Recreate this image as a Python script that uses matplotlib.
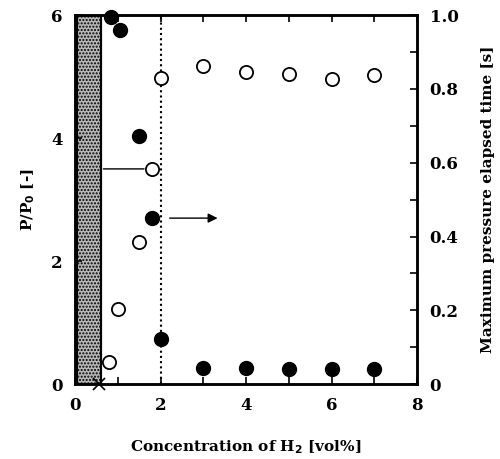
import matplotlib.pyplot as plt
import numpy as np
from matplotlib.ticker import MultipleLocator

# -----------------------
# DATA
# -----------------------
conc_open = [0.8, 1.0, 1.5, 1.8, 2.0, 3.0, 4.0, 5.0, 6.0, 7.0]
pp0 = [0.36, 1.22, 2.31, 3.50, 4.98, 5.17, 5.07, 5.05, 4.96, 5.02]

conc_fill = [0.85, 1.05, 1.5, 1.8, 2.0, 3.0, 4.0, 5.0, 6.0, 7.0]
elapsed = [0.995, 0.96, 0.672, 0.45, 0.122, 0.043, 0.043, 0.040, 0.040, 0.040]

band_x = [0.05, 0.6]      # hatched non-ignition region
limit_x = 0.55            # cross on the x axis
dotted_x = 2.0

plt.rcParams['font.family'] = ['DejaVu Serif']
plt.rcParams['font.weight'] = 'bold'
plt.rcParams['mathtext.default'] = 'bf'
plt.rcParams['hatch.color'] = '#222222'

fig = plt.figure(figsize=(5.0, 4.59), dpi=100)
ax = fig.add_axes([0.15, 0.163, 0.684, 0.804])
ax2 = ax.twinx()

# band
ax.axvspan(band_x[0], band_x[1], facecolor='#b8b8b8', edgecolor='black',
           hatch='.....', linewidth=1.5, zorder=1)
ax.axvspan(band_x[0], band_x[1], facecolor='none', edgecolor='black',
           linewidth=1.5, zorder=1)
ax.axvline(dotted_x, color='black', linestyle=(0, (1, 1.5)), linewidth=1.5, zorder=2)

ax.plot(conc_open, pp0, 'o', mfc='white', mec='black', mew=1.3, ms=9.5, zorder=5, clip_on=False)
ax2.plot(conc_fill, elapsed, 'o', color='black', ms=10, zorder=5, clip_on=False)
ax.plot([limit_x], [0], 'x', color='black', ms=9, mew=1.2, clip_on=False, zorder=6)

# arrows
ax.annotate('', xy=(band_x[1], 3.5), xytext=(1.68, 3.5),
            arrowprops=dict(arrowstyle='-', color='black', lw=1.0))
ax2.annotate('', xy=(3.4, 0.45), xytext=(2.15, 0.45),
             arrowprops=dict(arrowstyle='-|>', color='black', lw=1.0, mutation_scale=14))

ax.set_xlim(0, 8)
ax.set_ylim(0, 6)
ax2.set_ylim(0, 1.0)

ax.xaxis.set_major_locator(MultipleLocator(2))
ax.xaxis.set_minor_locator(MultipleLocator(1))
ax.yaxis.set_major_locator(MultipleLocator(2))
ax2.yaxis.set_major_locator(MultipleLocator(0.2))
ax2.yaxis.set_minor_locator(MultipleLocator(0.1))
ax2.set_yticks([0, 0.2, 0.4, 0.6, 0.8, 1.0])
ax2.set_yticklabels(['0', '0.2', '0.4', '0.6', '0.8', '1.0'])

ax.tick_params(axis='x', which='both', direction='in', top=True, length=5, width=1.2, labelsize=12, pad=9)
ax.tick_params(axis='y', which='both', direction='in', length=5, width=1.2, labelsize=12, pad=9)
ax2.tick_params(axis='y', which='both', direction='in', length=5, width=1.2, labelsize=12, pad=9)

for sp in ax.spines.values():
    sp.set_linewidth(1.8)
for sp in ax2.spines.values():
    sp.set_linewidth(1.8)

ax.set_xlabel('Concentration of H$_2$ [vol%]', fontsize=11, fontweight='bold', labelpad=18)
ax.set_ylabel('P/P$_0$ [-]', fontsize=11, fontweight='bold', labelpad=10)
ax2.set_ylabel('Maximum pressure elapsed time [s]', fontsize=11, fontweight='bold', labelpad=16)

fig.savefig('out.png', dpi=100)
